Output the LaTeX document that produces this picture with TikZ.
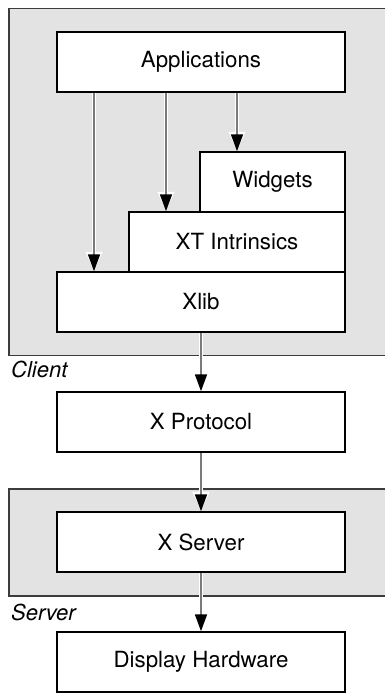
\documentclass[tikz,border=0pt]{standalone}
\usepackage{fontspec}
\setmainfont{TeX Gyre Heros}
\usetikzlibrary{arrows.meta}
\definecolor{panelgray}{HTML}{E3E3E3}
\definecolor{panelline}{HTML}{3C3C3C}
\definecolor{wiregray}{HTML}{7A7A7A}
\begin{document}
\begin{tikzpicture}[x=1pt,y=-1pt,
  layer/.style={draw=black, fill=white, line width=1.5pt, inner sep=0pt,
    minimum height=60pt, font=\fontsize{22.3}{26}\selectfont},
  panel/.style={draw=panelline, fill=panelgray, line width=1.6pt},
  tag/.style={font=\fontsize{22}{26}\selectfont\itshape, anchor=base west, inner sep=0pt},
  halo/.style={draw=white, line width=4.6pt,
    -{Triangle[length=19.5pt 0,width=16pt 0,white]}},
  core/.style={draw=wiregray, line width=1.7pt,
    -{Triangle[length=17pt 0,width=12pt 0,black]}},
]
\useasboundingbox (0,0) rectangle (385,694);

% client and server panels
\draw[panel] (9,8.5) rectangle (400,355.5);
\draw[panel] (9,489) rectangle (400,596);

% client side layers
\node[layer, minimum width=288pt] (apps) at (201,62) {Applications};
\node[layer, minimum width=145pt] (widgets) at (272.5,182) {Widgets};
\node[layer, minimum width=216pt] (xt) at (237,242) {XT Intrinsics};
\node[layer, minimum width=288pt] (xlib) at (201,302) {Xlib};

% protocol, server and hardware
\node[layer, minimum width=288pt] (proto) at (201,422) {X Protocol};
\node[layer, minimum width=288pt] (server) at (201,542) {X Server};
\node[layer, minimum width=288pt] (hw) at (201,662) {Display Hardware};

% panel captions
\node[tag] (client) at (11,377) {Client};
\node[tag] (srv) at (11,620) {Server};

% call paths: white halo first, grey wire with black head on top
\coordinate (c1) at (94,0);
\coordinate (c2) at (166,0);
\coordinate (c3) at (237,0);
\foreach \st in {halo,core} {
  \draw[\st] (apps.south -| c1) -- (xlib.north -| c1);
  \draw[\st] (apps.south -| c2) -- (xt.north -| c2);
  \draw[\st] (apps.south -| c3) -- (widgets.north -| c3);
  \draw[\st] (xlib.south) -- (proto.north);
  \draw[\st] (proto.south) -- (server.north);
  \draw[\st] (server.south) -- (hw.north);
}
\end{tikzpicture}
\end{document}
